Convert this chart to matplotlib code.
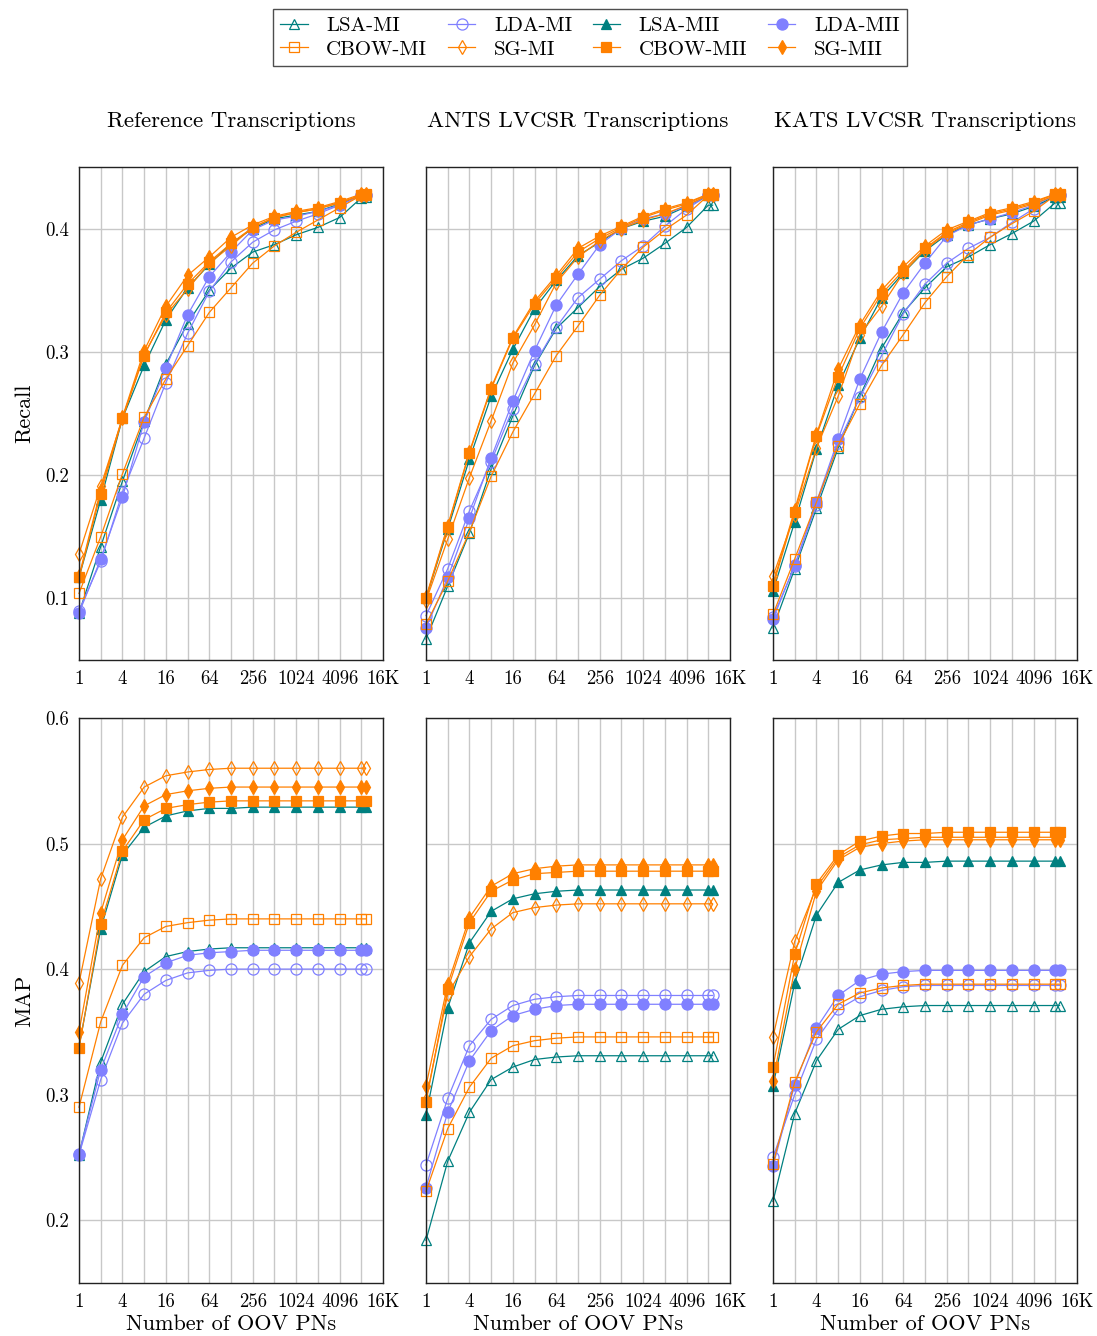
import matplotlib
matplotlib.use("Agg")
import matplotlib.pyplot as plt
from matplotlib.lines import Line2D

plt.rcParams.update({
    "font.family": ["cmr10", "DejaVu Serif"],
    "mathtext.fontset": "cm",
    "axes.formatter.use_mathtext": True,
    "axes.linewidth": 1.0,
    "axes.edgecolor": "#222222",
})

# ---- data ----
N_PNS = [1, 2, 4, 8, 16, 32, 64, 128, 256, 512, 1024, 2048, 4096, 8192, 9400]
XTICKS = [1, 4, 16, 64, 256, 1024, 4096, 16384]
XTICK_LABELS = ["1", "4", "16", "64", "256", "1024", "4096", "16K"]
XMINOR = [2, 8, 32, 128, 512, 2048, 8192]
TITLES = ["Reference Transcriptions", "ANTS LVCSR Transcriptions", "KATS LVCSR Transcriptions"]
SERIES = ["LSA-MI", "LDA-MI", "LSA-MII", "LDA-MII", "CBOW-MI", "SG-MI", "CBOW-MII", "SG-MII"]

# Recall, reference transcriptions
ref_rec_lsa_mi = [0.088, 0.142, 0.195, 0.244, 0.290, 0.323, 0.350, 0.368, 0.381, 0.387, 0.395, 0.401, 0.409, 0.425, 0.426]
ref_rec_lda_mi = [0.090, 0.130, 0.186, 0.230, 0.275, 0.315, 0.349, 0.373, 0.389, 0.399, 0.406, 0.412, 0.419, 0.427, 0.427]
ref_rec_lsa_mii = [0.117, 0.180, 0.246, 0.289, 0.326, 0.352, 0.371, 0.388, 0.400, 0.408, 0.411, 0.414, 0.420, 0.427, 0.427]
ref_rec_lda_mii = [0.088, 0.132, 0.182, 0.243, 0.287, 0.330, 0.361, 0.381, 0.399, 0.407, 0.410, 0.414, 0.419, 0.427, 0.427]
ref_rec_cbow_mi = [0.104, 0.150, 0.201, 0.247, 0.278, 0.305, 0.332, 0.352, 0.372, 0.386, 0.397, 0.407, 0.417, 0.427, 0.427]
ref_rec_sg_mi = [0.136, 0.191, 0.246, 0.298, 0.330, 0.351, 0.372, 0.386, 0.401, 0.409, 0.413, 0.416, 0.421, 0.427, 0.427]
ref_rec_cbow_mii = [0.117, 0.185, 0.246, 0.297, 0.332, 0.355, 0.373, 0.388, 0.401, 0.409, 0.413, 0.416, 0.421, 0.427, 0.428]
ref_rec_sg_mii = [0.118, 0.188, 0.247, 0.301, 0.337, 0.362, 0.377, 0.393, 0.403, 0.410, 0.414, 0.417, 0.422, 0.428, 0.428]

# Recall, ANTS LVCSR
ants_rec_lsa_mi = [0.067, 0.110, 0.153, 0.205, 0.248, 0.289, 0.319, 0.336, 0.353, 0.367, 0.376, 0.388, 0.401, 0.419, 0.419]
ants_rec_lda_mi = [0.086, 0.124, 0.171, 0.211, 0.254, 0.290, 0.320, 0.344, 0.359, 0.374, 0.386, 0.402, 0.416, 0.427, 0.427]
ants_rec_lsa_mii = [0.100, 0.156, 0.213, 0.264, 0.302, 0.335, 0.358, 0.378, 0.389, 0.400, 0.406, 0.410, 0.418, 0.427, 0.427]
ants_rec_lda_mii = [0.076, 0.117, 0.165, 0.214, 0.260, 0.301, 0.338, 0.363, 0.387, 0.400, 0.408, 0.412, 0.418, 0.427, 0.427]
ants_rec_cbow_mi = [0.079, 0.114, 0.154, 0.199, 0.235, 0.266, 0.297, 0.321, 0.346, 0.367, 0.385, 0.399, 0.411, 0.427, 0.427]
ants_rec_sg_mi = [0.098, 0.148, 0.198, 0.244, 0.291, 0.322, 0.356, 0.377, 0.390, 0.400, 0.407, 0.412, 0.419, 0.427, 0.427]
ants_rec_cbow_mii = [0.100, 0.158, 0.218, 0.270, 0.311, 0.339, 0.360, 0.381, 0.392, 0.401, 0.409, 0.415, 0.420, 0.428, 0.428]
ants_rec_sg_mii = [0.101, 0.159, 0.219, 0.271, 0.312, 0.341, 0.362, 0.384, 0.394, 0.402, 0.410, 0.416, 0.421, 0.428, 0.428]

# Recall, KATS LVCSR
kats_rec_lsa_mi = [0.076, 0.124, 0.173, 0.222, 0.264, 0.303, 0.332, 0.352, 0.369, 0.377, 0.387, 0.396, 0.406, 0.421, 0.421]
kats_rec_lda_mi = [0.085, 0.126, 0.176, 0.226, 0.263, 0.297, 0.331, 0.355, 0.372, 0.384, 0.393, 0.405, 0.416, 0.427, 0.427]
kats_rec_lsa_mii = [0.106, 0.162, 0.221, 0.273, 0.311, 0.344, 0.364, 0.382, 0.395, 0.403, 0.408, 0.412, 0.418, 0.426, 0.426]
kats_rec_lda_mii = [0.083, 0.127, 0.178, 0.229, 0.278, 0.316, 0.348, 0.372, 0.394, 0.403, 0.408, 0.413, 0.419, 0.427, 0.427]
kats_rec_cbow_mi = [0.087, 0.132, 0.178, 0.224, 0.258, 0.289, 0.314, 0.340, 0.361, 0.379, 0.393, 0.404, 0.414, 0.427, 0.427]
kats_rec_sg_mi = [0.118, 0.168, 0.222, 0.264, 0.314, 0.337, 0.364, 0.383, 0.396, 0.404, 0.411, 0.415, 0.420, 0.427, 0.427]
kats_rec_cbow_mii = [0.110, 0.170, 0.232, 0.280, 0.319, 0.347, 0.366, 0.384, 0.397, 0.405, 0.412, 0.416, 0.421, 0.428, 0.428]
kats_rec_sg_mii = [0.112, 0.172, 0.233, 0.286, 0.322, 0.350, 0.369, 0.386, 0.399, 0.406, 0.413, 0.417, 0.422, 0.428, 0.428]

# MAP, reference transcriptions
ref_map_lsa_mi = [0.252, 0.326, 0.372, 0.398, 0.410, 0.414, 0.416, 0.417, 0.417, 0.417, 0.417, 0.417, 0.417, 0.417, 0.417]
ref_map_lda_mi = [0.252, 0.312, 0.357, 0.380, 0.391, 0.397, 0.399, 0.400, 0.400, 0.400, 0.400, 0.400, 0.400, 0.400, 0.400]
ref_map_lsa_mii = [0.338, 0.432, 0.491, 0.513, 0.522, 0.526, 0.528, 0.528, 0.529, 0.529, 0.529, 0.529, 0.529, 0.529, 0.529]
ref_map_lda_mii = [0.253, 0.320, 0.364, 0.394, 0.405, 0.411, 0.413, 0.414, 0.415, 0.415, 0.415, 0.415, 0.415, 0.415, 0.415]
ref_map_cbow_mi = [0.290, 0.358, 0.403, 0.425, 0.434, 0.437, 0.439, 0.440, 0.440, 0.440, 0.440, 0.440, 0.440, 0.440, 0.440]
ref_map_sg_mi = [0.389, 0.472, 0.521, 0.545, 0.554, 0.557, 0.559, 0.560, 0.560, 0.560, 0.560, 0.560, 0.560, 0.560, 0.560]
ref_map_cbow_mii = [0.337, 0.436, 0.494, 0.519, 0.528, 0.531, 0.533, 0.534, 0.534, 0.534, 0.534, 0.534, 0.534, 0.534, 0.534]
ref_map_sg_mii = [0.350, 0.445, 0.503, 0.530, 0.539, 0.542, 0.544, 0.545, 0.545, 0.545, 0.545, 0.545, 0.545, 0.545, 0.545]

# MAP, ANTS LVCSR
ants_map_lsa_mi = [0.184, 0.247, 0.286, 0.312, 0.322, 0.328, 0.330, 0.331, 0.331, 0.331, 0.331, 0.331, 0.331, 0.331, 0.331]
ants_map_lda_mi = [0.244, 0.297, 0.339, 0.360, 0.371, 0.376, 0.378, 0.379, 0.379, 0.379, 0.379, 0.379, 0.379, 0.379, 0.379]
ants_map_lsa_mii = [0.284, 0.369, 0.421, 0.446, 0.456, 0.460, 0.462, 0.463, 0.463, 0.463, 0.463, 0.463, 0.463, 0.463, 0.463]
ants_map_lda_mii = [0.226, 0.286, 0.327, 0.351, 0.363, 0.368, 0.371, 0.372, 0.372, 0.372, 0.372, 0.372, 0.372, 0.372, 0.372]
ants_map_cbow_mi = [0.223, 0.273, 0.306, 0.329, 0.339, 0.343, 0.345, 0.346, 0.346, 0.346, 0.346, 0.346, 0.346, 0.346, 0.346]
ants_map_sg_mi = [0.296, 0.380, 0.410, 0.432, 0.445, 0.449, 0.451, 0.452, 0.452, 0.452, 0.452, 0.452, 0.452, 0.452, 0.452]
ants_map_cbow_mii = [0.294, 0.384, 0.437, 0.462, 0.471, 0.476, 0.477, 0.478, 0.478, 0.478, 0.478, 0.478, 0.478, 0.478, 0.478]
ants_map_sg_mii = [0.307, 0.388, 0.441, 0.466, 0.476, 0.480, 0.482, 0.483, 0.483, 0.483, 0.483, 0.483, 0.483, 0.483, 0.483]

# MAP, KATS LVCSR
kats_map_lsa_mi = [0.215, 0.285, 0.327, 0.352, 0.363, 0.368, 0.370, 0.371, 0.371, 0.371, 0.371, 0.371, 0.371, 0.371, 0.371]
kats_map_lda_mi = [0.250, 0.300, 0.344, 0.368, 0.378, 0.383, 0.386, 0.387, 0.387, 0.387, 0.387, 0.387, 0.387, 0.387, 0.387]
kats_map_lsa_mii = [0.307, 0.389, 0.443, 0.469, 0.479, 0.483, 0.485, 0.485, 0.486, 0.486, 0.486, 0.486, 0.486, 0.486, 0.486]
kats_map_lda_mii = [0.243, 0.308, 0.353, 0.379, 0.391, 0.396, 0.398, 0.399, 0.399, 0.399, 0.399, 0.399, 0.399, 0.399, 0.399]
kats_map_cbow_mi = [0.245, 0.310, 0.350, 0.372, 0.381, 0.385, 0.387, 0.388, 0.388, 0.388, 0.388, 0.388, 0.388, 0.388, 0.388]
kats_map_sg_mi = [0.346, 0.422, 0.465, 0.489, 0.499, 0.503, 0.504, 0.505, 0.505, 0.505, 0.505, 0.505, 0.505, 0.505, 0.505]
kats_map_cbow_mii = [0.322, 0.412, 0.468, 0.491, 0.502, 0.506, 0.508, 0.508, 0.509, 0.509, 0.509, 0.509, 0.509, 0.509, 0.509]
kats_map_sg_mii = [0.311, 0.400, 0.462, 0.487, 0.497, 0.500, 0.502, 0.503, 0.503, 0.503, 0.503, 0.503, 0.503, 0.503, 0.503]

PANELS = [
    [ref_rec_lsa_mi, ref_rec_lda_mi, ref_rec_lsa_mii, ref_rec_lda_mii,
     ref_rec_cbow_mi, ref_rec_sg_mi, ref_rec_cbow_mii, ref_rec_sg_mii],
    [ants_rec_lsa_mi, ants_rec_lda_mi, ants_rec_lsa_mii, ants_rec_lda_mii,
     ants_rec_cbow_mi, ants_rec_sg_mi, ants_rec_cbow_mii, ants_rec_sg_mii],
    [kats_rec_lsa_mi, kats_rec_lda_mi, kats_rec_lsa_mii, kats_rec_lda_mii,
     kats_rec_cbow_mi, kats_rec_sg_mi, kats_rec_cbow_mii, kats_rec_sg_mii],
    [ref_map_lsa_mi, ref_map_lda_mi, ref_map_lsa_mii, ref_map_lda_mii,
     ref_map_cbow_mi, ref_map_sg_mi, ref_map_cbow_mii, ref_map_sg_mii],
    [ants_map_lsa_mi, ants_map_lda_mi, ants_map_lsa_mii, ants_map_lda_mii,
     ants_map_cbow_mi, ants_map_sg_mi, ants_map_cbow_mii, ants_map_sg_mii],
    [kats_map_lsa_mi, kats_map_lda_mi, kats_map_lsa_mii, kats_map_lda_mii,
     kats_map_cbow_mi, kats_map_sg_mi, kats_map_cbow_mii, kats_map_sg_mii],
]

# ---- styles ----
TEAL = "#008080"; LILAC = "#8080FF"; ORANGE = "#FF8000"
STYLE = {
    "LSA-MI":   dict(color=TEAL, marker="^", mfc="none", ms=7),
    "LDA-MI":   dict(color=LILAC, marker="o", mfc="none", ms=8),
    "LSA-MII":  dict(color=TEAL, marker="^", mfc=TEAL, ms=7),
    "LDA-MII":  dict(color=LILAC, marker="o", mfc=LILAC, ms=8),
    "CBOW-MI":  dict(color=ORANGE, marker="s", mfc="none", ms=7.5),
    "SG-MI":    dict(color=ORANGE, marker="d", mfc="none", ms=7),
    "CBOW-MII": dict(color=ORANGE, marker="s", mfc=ORANGE, ms=7.5),
    "SG-MII":   dict(color=ORANGE, marker="d", mfc=ORANGE, ms=7),
}

W, H = 1097, 1336
fig = plt.figure(figsize=(W / 100, H / 100), dpi=100)

col_left = [79, 426, 773]
col_w = 304
rows = [(167, 660, (0.05, 0.45), [0.1, 0.2, 0.3, 0.4], "Recall"),
        (718, 1283, (0.15, 0.6), [0.2, 0.3, 0.4, 0.5, 0.6], "MAP")]

for r, (top, bot, ylim, yticks, ylabel) in enumerate(rows):
    for c in range(3):
        ax = fig.add_axes([col_left[c] / W, 1 - bot / H, col_w / W, (bot - top) / H])
        data = PANELS[r * 3 + c]
        for name, vals in zip(SERIES, data):
            st = STYLE[name]
            ax.plot(N_PNS, vals, color=st["color"], lw=0.9, marker=st["marker"],
                    ms=st["ms"], mfc=st["mfc"], mec=st["color"], mew=0.9, clip_on=False)
        ax.set_xscale("log", base=2)
        ax.set_xlim(1, 16384)
        ax.set_ylim(*ylim)
        ax.set_xticks(XTICKS)
        ax.set_xticklabels(XTICK_LABELS)
        ax.set_xticks(XMINOR, minor=True)
        ax.set_xticklabels([], minor=True)
        ax.set_yticks(yticks)
        if c == 0:
            ax.set_yticklabels([f"{v:.1f}" for v in yticks])
            ax.set_ylabel(ylabel, fontsize=16, labelpad=8)
        else:
            ax.set_yticklabels([])
        ax.tick_params(which="both", length=0, labelsize=13.5, pad=7)
        ax.grid(True, which="both", axis="x", color="#c8c8c8", lw=1.0)
        ax.grid(True, which="major", axis="y", color="#c8c8c8", lw=1.0)
        ax.set_axisbelow(True)
        if r == 0:
            ax.set_title(TITLES[c], fontsize=16.5, pad=29)
        else:
            ax.set_xlabel("Number of OOV PNs", fontsize=16, labelpad=3)

handles = []
for name in SERIES:
    st = STYLE[name]
    handles.append(Line2D([], [], color=st["color"], lw=0.9, marker=st["marker"], ms=st["ms"],
                          mfc=st["mfc"], mec=st["color"], mew=0.9, label=name))
order = [0, 4, 1, 5, 2, 6, 3, 7]
leg = fig.legend([handles[i] for i in order], [SERIES[i] for i in order],
                 loc="upper center", bbox_to_anchor=(590 / W, 1 - 9 / H), ncol=4,
                 fontsize=15, frameon=True, fancybox=False, edgecolor="#222222",
                 handlelength=1.3, handletextpad=0.9, columnspacing=1.0,
                 borderpad=0.35, labelspacing=0.25, borderaxespad=0)
leg.get_frame().set_linewidth(1.0)

fig.savefig("out.png", dpi=100)
